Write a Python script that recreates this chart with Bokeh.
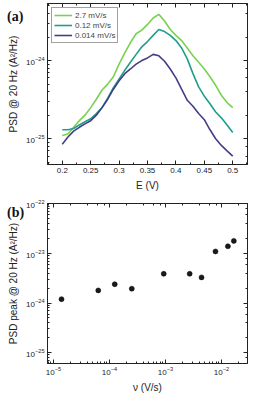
from bokeh.plotting import figure
from bokeh.layouts import column
from bokeh.models import (Range1d, LinearAxis, LogAxis, SingleIntervalTicker,
                          NumeralTickFormatter, LogTicker, Div)
from bokeh.embed import file_html
from bokeh.resources import INLINE

# ---- panel (a): PSD at 20 Hz vs potential ----
E = [0.20, 0.21, 0.22, 0.23, 0.24, 0.25, 0.26, 0.27, 0.28, 0.29, 0.30,
     0.31, 0.32, 0.33, 0.34, 0.35, 0.36, 0.37, 0.38, 0.39, 0.40,
     0.41, 0.42, 0.43, 0.44, 0.45, 0.46, 0.47, 0.48, 0.49, 0.50]
psd_2p7 = [1.1e-25, 1.15e-25, 1.4e-25, 1.7e-25, 2.0e-25, 2.5e-25, 3.2e-25, 4.2e-25, 5.0e-25, 6.2e-25, 9.0e-25,
           1.25e-24, 1.7e-24, 2.2e-24, 2.45e-24, 2.9e-24, 3.5e-24, 3.9e-24, 3.2e-24, 2.5e-24, 2.1e-24,
           1.8e-24, 1.45e-24, 1.15e-24, 9.5e-25, 7.8e-25, 6.2e-25, 4.8e-25, 3.6e-25, 2.9e-25, 2.5e-25]
psd_0p12 = [1.3e-25, 1.3e-25, 1.35e-25, 1.5e-25, 1.65e-25, 1.8e-25, 2.1e-25, 2.5e-25, 3.3e-25, 4.5e-25, 5.8e-25,
            7.5e-25, 9.5e-25, 1.2e-24, 1.5e-24, 1.75e-24, 2.1e-24, 2.5e-24, 2.35e-24, 2.1e-24, 1.8e-24,
            1.45e-24, 1.05e-24, 6.8e-25, 4.6e-25, 3.5e-25, 2.8e-25, 2.2e-25, 1.85e-25, 1.5e-25, 1.2e-25]
psd_0p014 = [8.5e-26, 1.05e-25, 1.25e-25, 1.4e-25, 1.55e-25, 1.7e-25, 2.0e-25, 2.5e-25, 3.2e-25, 4.3e-25, 5.5e-25,
             6.8e-25, 7.8e-25, 9.0e-25, 1.0e-24, 1.08e-24, 1.2e-24, 1.15e-24, 9.8e-25, 7.8e-25, 6.0e-25,
             4.3e-25, 3.1e-25, 2.6e-25, 2.1e-25, 1.75e-25, 1.3e-25, 1.0e-25, 8.2e-26, 7.0e-26, 6.0e-26]
series_labels = ["2.7 mV/s", "0.12 mV/s", "0.014 mV/s"]
series_colors = ["#7AD151", "#1F9E89", "#433E85"]

# ---- panel (b): PSD peak vs scan rate ----
rate = [1.39e-5, 6.3e-5, 1.24e-4, 2.5e-4, 9.3e-4, 2.7e-3, 4.4e-3, 7.8e-3, 1.3e-2, 1.66e-2]
psd_peak = [1.2e-24, 1.8e-24, 2.4e-24, 1.95e-24, 3.9e-24, 3.9e-24, 3.3e-24, 1.1e-23, 1.4e-23, 1.8e-23]

panel_names = ["(a)", "(b)"]

FONT = "Liberation Sans"
AX_COL = "#222222"


def style_axis(ax, show_labels=True):
    ax.major_tick_in = 4
    ax.major_tick_out = 0
    ax.minor_tick_in = 2
    ax.minor_tick_out = 0
    ax.axis_line_color = AX_COL
    ax.major_tick_line_color = AX_COL
    ax.minor_tick_line_color = AX_COL
    ax.major_label_text_font = FONT
    ax.major_label_text_color = "#222222"
    ax.axis_label_text_font = FONT
    ax.axis_label_text_font_style = "normal"
    ax.axis_label_text_font_size = "10px"
    ax.axis_label_text_color = "#222222"
    ax.axis_label_standoff = 4
    ax.major_label_standoff = 3
    if not show_labels:
        ax.major_label_text_font_size = "1px"
        ax.major_label_text_alpha = 0
        ax.major_label_standoff = 0


def panel_label(text, top):
    html = ("<span style=\"font-family: 'Liberation Serif', serif; font-size: 14px; "
            "font-weight: bold; color: #111111; line-height: 16px;\">" + text + "</span>")
    return Div(text=html, styles={"position": "absolute", "left": "2px", "top": f"{top}px",
                                  "font-family": "'Liberation Serif', serif", "z-index": "10"})


# ---------- figure (a) ----------
p1 = figure(width=260, height=195, y_axis_type="log",
            x_range=Range1d(0.174, 0.526), y_range=Range1d(10**-25.33, 10**-23.27),
            output_backend="svg", toolbar_location=None,
            min_border_left=46, min_border_right=12, min_border_top=3, min_border_bottom=31)
p1.grid.visible = False
p1.outline_line_color = AX_COL
p1.xaxis.ticker = SingleIntervalTicker(interval=0.05, num_minor_ticks=2)
p1.xaxis.formatter = NumeralTickFormatter(format="0.[00]")
p1.xaxis.axis_label = "E (V)"
p1.yaxis.axis_label = "PSD @ 20 Hz (A\u00b2/Hz)"
for ax in p1.xaxis + p1.yaxis:
    style_axis(ax)
p1.xaxis.major_label_text_font_size = "8px"
p1.yaxis.major_label_text_font_size = "8px"

top1 = LinearAxis(ticker=SingleIntervalTicker(interval=0.05, num_minor_ticks=2))
style_axis(top1, show_labels=False)
p1.add_layout(top1, "above")
right1 = LogAxis(ticker=LogTicker())
style_axis(right1, show_labels=False)
p1.add_layout(right1, "right")

for ys, lab, col in zip([psd_2p7, psd_0p12, psd_0p014], series_labels, series_colors):
    p1.line(E, ys, line_color=col, line_width=1.6, legend_label=lab)

lg = p1.legend[0]
lg.location = "top_left"
lg.margin = 4
lg.padding = 2
lg.spacing = 0
lg.label_height = 10
lg.glyph_height = 10
lg.glyph_width = 18
lg.label_standoff = 3
lg.label_text_font = FONT
lg.label_text_font_size = "8px"
lg.label_text_baseline = "middle"
lg.border_line_color = "#444444"
lg.border_line_width = 1
lg.background_fill_alpha = 1.0

# ---------- figure (b) ----------
p2 = figure(width=260, height=200, x_axis_type="log", y_axis_type="log",
            x_range=Range1d(10**-5.107, 10**-1.536), y_range=Range1d(10**-25.22, 10**-21.99),
            output_backend="svg", toolbar_location=None,
            min_border_left=47, min_border_right=13, min_border_top=8, min_border_bottom=31)
p2.grid.visible = False
p2.outline_line_color = AX_COL
p2.xaxis.axis_label = "\u03bd (V/s)"
p2.yaxis.axis_label = "PSD peak @ 20 Hz (A\u00b2/Hz)"
for ax in p2.xaxis + p2.yaxis:
    style_axis(ax)
p2.xaxis.major_label_text_font_size = "8px"
p2.yaxis.major_label_text_font_size = "8px"

top2 = LogAxis(ticker=LogTicker())
style_axis(top2, show_labels=False)
p2.add_layout(top2, "above")
right2 = LogAxis(ticker=LogTicker())
style_axis(right2, show_labels=False)
p2.add_layout(right2, "right")

p2.scatter(rate, psd_peak, size=5, fill_color="#1a1a1a", line_color="#000000", line_width=0.5)

layout = column(p1, p2, panel_label(panel_names[0], 4), panel_label(panel_names[1], 200),
                spacing=0, styles={"position": "relative"})
open("out.html", "w").write(file_html(layout, INLINE))
